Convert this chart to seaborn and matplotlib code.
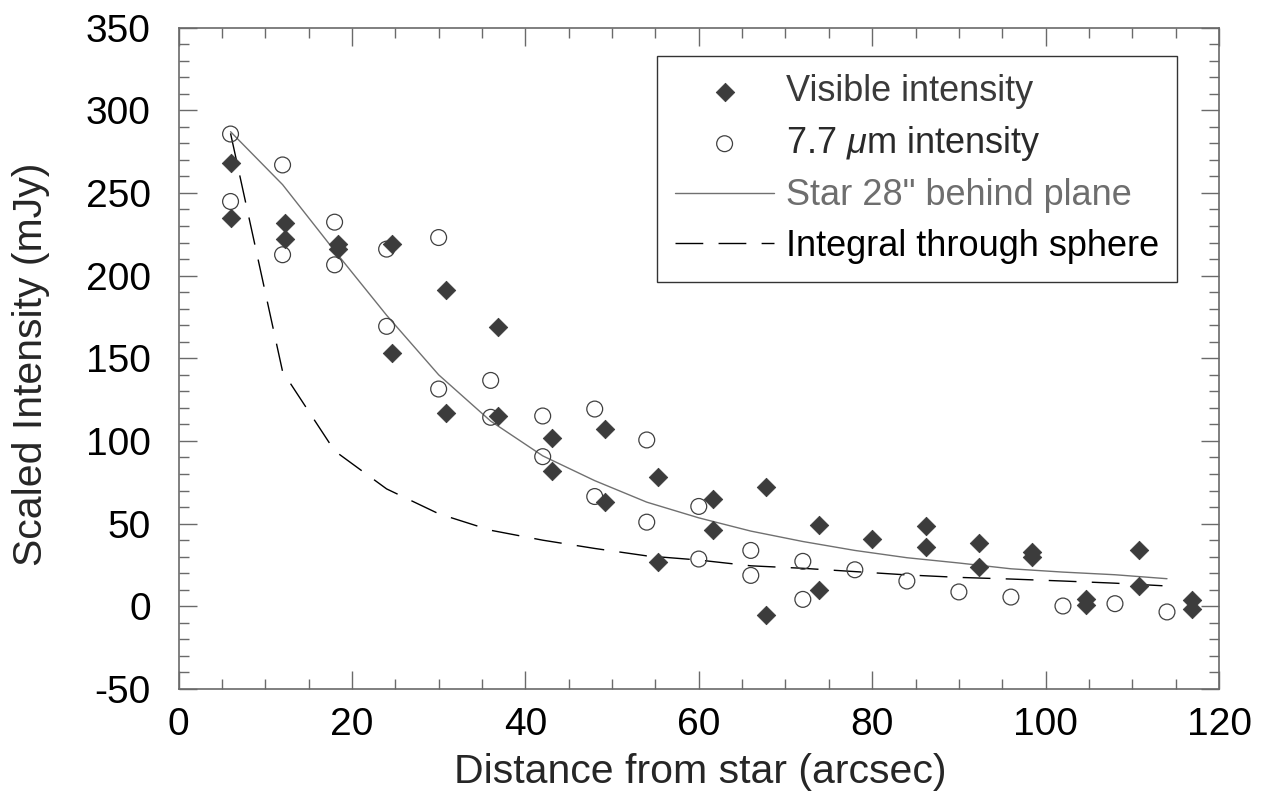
import matplotlib
matplotlib.use("Agg")
import matplotlib.pyplot as plt
import seaborn as sns
from matplotlib.ticker import MultipleLocator

# ---- data ----
vis_x = [6.1, 6.1, 12.3, 12.3, 18.4, 18.4, 24.6, 24.6, 30.8, 30.8, 36.8, 36.8,
         43.1, 43.1, 49.2, 49.2, 55.3, 55.3, 61.6, 61.6, 67.7, 67.7, 73.9, 73.9,
         80.0, 86.2, 86.2, 92.3, 92.3, 98.4, 98.4, 104.7, 104.7, 110.8, 110.8,
         116.9, 116.9]
vis_y = [268, 235, 232, 222, 219, 216, 219, 153, 191, 117, 169, 115,
         102, 82, 107, 63, 78, 27, 65, 46, 72, -5, 49, 10,
         41, 48.5, 36, 38, 24, 33, 30, 4.6, 0.6, 34, 12,
         3.6, -1.4]

ir_x = [6, 6, 12, 12, 18, 18, 24, 24, 30, 30, 36, 36, 42, 42, 48, 48, 54, 54,
        60, 60, 66, 66, 72, 72, 78, 84, 90, 96, 102, 108, 114]
ir_y = [285.6, 244.8, 266.9, 212.6, 232.3, 206.5, 216, 169.3, 223, 131.4,
        136.6, 114.3, 115.1, 90.5, 119.3, 66.4, 100.6, 50.9, 60.4, 28.6,
        33.8, 18.7, 27.2, 4.2, 22.1, 15.3, 8.7, 5.6, 0.2, 1.6, -3.4]

model_x = [6, 12, 18, 24, 30, 36, 42, 48, 54, 60, 66, 72, 78, 84, 90, 96,
           102, 108, 114]
star_y = [287, 255, 215, 176, 140, 112, 91, 76, 63, 53.5, 45.5, 39.2, 33.8,
          29.4, 26.2, 22.7, 20.7, 19.1, 16.7]
sphere_y = [286, 142, 94, 71, 56, 46, 40, 35, 30.5, 28, 24.5, 23, 21, 19,
            17.5, 16.5, 15.3, 14, 12.3]

labels = ["Visible intensity", r"7.7 $\mu$m intensity",
          'Star 28" behind plane', "Integral through sphere"]
label_colors = ["#3a3a3a", "#2a2a2a", "#6e6e6e", "#000000"]

xticks = [0, 20, 40, 60, 80, 100, 120]
yticks = [-50, 0, 50, 100, 150, 200, 250, 300, 350]

# ---- styling ----
sns.set_theme(style="ticks")
plt.rcParams["font.family"] = ["Liberation Sans", "DejaVu Sans"]
plt.rcParams["mathtext.fontset"] = "custom"
plt.rcParams["mathtext.rm"] = "Liberation Sans"
plt.rcParams["mathtext.it"] = "Liberation Sans:italic"
plt.rcParams["axes.unicode_minus"] = False

fig = plt.figure(figsize=(12.77, 8.07), dpi=100)
ax = fig.add_axes([0.1398, 0.1462, 0.8148, 0.8197])

sns.lineplot(x=model_x, y=star_y, ax=ax, color="#707070", linewidth=1.0,
             label=labels[2], sort=False, estimator=None, zorder=2)
sns.lineplot(x=model_x, y=sphere_y, ax=ax, color="black", linewidth=1.0,
             label=labels[3], sort=False, estimator=None, zorder=2,
             linestyle=(0, (20, 11)))
sns.scatterplot(x=ir_x, y=ir_y, ax=ax, marker="o", s=130, color="#404040",
                facecolor="none", edgecolor="#404040", linewidth=0.9,
                label=labels[1], zorder=3)
sns.scatterplot(x=vis_x, y=vis_y, ax=ax, marker="D", s=88, color="#3c3c3c",
                edgecolor="#3c3c3c", linewidth=0.6, label=labels[0], zorder=4)

ax.set_xlim(0, 120)
ax.set_ylim(-50, 350)
ax.set_xticks(xticks)
ax.set_yticks(yticks)
ax.xaxis.set_minor_locator(MultipleLocator(5))
ax.yaxis.set_minor_locator(MultipleLocator(10))
ax.set_xlabel("")
ax.set_ylabel("")

spine_col = "#6a6a6a"
for s in ax.spines.values():
    s.set_visible(True)
    s.set_color(spine_col)
    s.set_linewidth(1.2)
ax.tick_params(which="both", direction="in", top=True, right=True,
               colors=spine_col, labelcolor="black", width=1.0)
ax.tick_params(which="major", length=13, labelsize=28)
ax.tick_params(which="minor", length=7.2)
ax.tick_params(axis="x", which="major", pad=13)
ax.tick_params(axis="y", which="major", pad=20)

fig.text(31 / 1277, 1 - 364 / 807, "Scaled Intensity (mJy)", rotation=90,
         ha="center", va="center", fontsize=29.5)
fig.text(700 / 1277, 1 - 772 / 807, "Distance from star (arcsec)",
         ha="center", va="center", fontsize=29.5)

# legend
h, l = ax.get_legend_handles_labels()
order = [l.index(lab) for lab in labels]
leg = ax.legend([h[i] for i in order], [l[i] for i in order],
                loc="upper right", bbox_to_anchor=(0.9596, 0.957),
                borderaxespad=0, fontsize=26, frameon=True, fancybox=False,
                edgecolor="#333333", framealpha=1, handlelength=2.75,
                handletextpad=0.32, labelspacing=0.42, borderpad=0.5)
leg.get_frame().set_linewidth(1.0)
for t, c in zip(leg.get_texts(), label_colors):
    t.set_color(c)

fig.savefig("out.png", dpi=100)
